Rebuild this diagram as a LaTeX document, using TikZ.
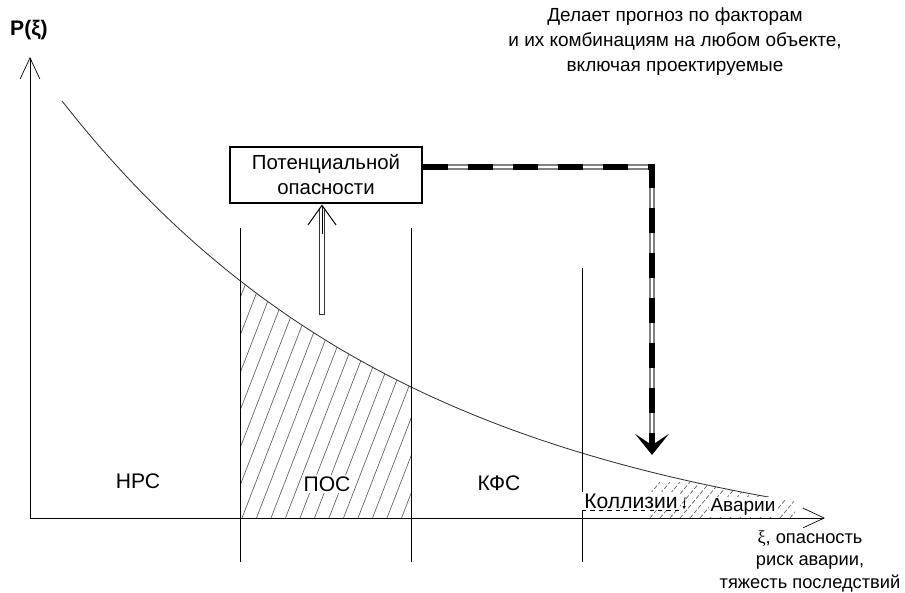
\documentclass[tikz,border=0pt]{standalone}
\usepackage{fontspec}
\setmainfont{Liberation Sans}
\newfontfamily\greekserif{Liberation Serif}
\usetikzlibrary{arrows.meta,calc,positioning}
\tikzset{
	axis line/.style={line width=0.6pt,-{Straight Barb[length=15pt,width=14pt,line width=0.5pt]}},
	zone line/.style={line width=0.6pt},
	curve line/.style={line width=0.6pt,black!80},
	hatch/.style={black!60,line width=0.5pt},
	zone label/.style={font=\fontsize{15}{18}\selectfont},
	small label/.style={font=\fontsize{13.5}{17.8}\selectfont},
	main box/.style={draw,line width=1.5pt,minimum width=4.8cm,minimum height=1.42cm,
		align=center,font=\fontsize{14.5}{17.8}\selectfont},
	hollow outer/.style={line width=4.2pt,black!80},
	hollow inner/.style={line width=2.4pt,white,shorten >=-1pt,shorten <=0.8pt},
	hollow tip/.style={line width=0.7pt,-{Straight Barb[length=14pt,width=20pt]}},
	fcast base/.style={line width=3.6pt,gray,shorten >=6pt},
	fcast inner/.style={line width=2pt,white,shorten >=6pt},
	fcast dash/.style={line width=3.6pt,dash pattern=on 18pt off 14pt,
		-{Stealth[length=15pt,width=24pt,inset=8pt]}}
}

\begin{document}
\begin{tikzpicture}[x=0.025cm,y=-0.025cm,
	declare function={pcurve(\t)=561.8-460.8*exp(-0.00277*(\t-62));}]
\useasboundingbox (0,0) rectangle (905,592);

\begin{scope}
  \clip (240,518) -- plot[domain=240:411,samples=30] (\x,{pcurve(\x)}) -- (411,518) -- cycle;
  \foreach \i in {-7,...,12}
    \draw[hatch] ({242+\i*14.5},518) -- ++(116,-300);
\end{scope}
\begin{scope}
  \clip (650,518) -- plot[domain=650:795,samples=20] (\x,{pcurve(\x)}) -- (795,518) -- cycle;
  \foreach \i in {-2,...,16}
    \draw[hatch,dash pattern=on 3pt off 1.5pt] ({640+\i*10},518) -- ++(30,-36);
\end{scope}

\coordinate (origin) at (30,518);
\coordinate (ytip) at (30,57);
\coordinate (xtip) at (825,518);
\draw[axis line] (origin) -- (ytip);
\draw[axis line] (origin) -- (xtip);

\draw[curve line] plot[domain=62:770,samples=80] (\x,{pcurve(\x)});

\draw[zone line] (240,228) -- (240,562);
\draw[zone line] (411,228) -- (411,562);
\draw[zone line] (582,268) -- (582,562);

\node[font=\bfseries\fontsize{15}{18}\selectfont] (pxi) at (29,30) {P(ξ)};
\node[small label,align=center] (forecast) at (675,42) {Делает прогноз по факторам\\и их комбинациям на любом объекте,\\включая проектируемые};

\node[main box] (potbox) at (326,175) {Потенциальной\\опасности};

\node[zone label] (nrs) at (138,481) {НРС};
\node[zone label,fill=white,inner sep=1pt] (pos) at (327,484) {ПОС};
\node[zone label] (kfs) at (499,483) {КФС};
\node[zone label,fill=white,inner xsep=1.5pt,inner ysep=1pt] (koll) at (631,501) {Коллизии};
\draw[dashed,line width=0.4pt] (koll.south west) -- (koll.south east);
\draw[line width=0.6pt,-{Latex[length=2pt,width=2.5pt]}] (685,497) -- (684,509);
\node[small label,fill=white,inner sep=1pt] (avar) at (743,507) {Аварии};

\node[small label,align=center,font=\fontsize{13}{16}\selectfont] (xilabel) at (810,561) {{\greekserif ξ}, опасность\\риск аварии,\\тяжесть последствий};

\coordinate (posfoot) at (322,315);
\coordinate (postip) at (posfoot |- potbox.south);
\draw[hollow outer] (posfoot) -- ($(postip)+(0,4)$);
\draw[hollow inner] (posfoot) -- ($(postip)+(0,4)$);
\draw[hollow tip] ($(postip)+(0,30)$) -- (postip);

\coordinate (progtip) at (652,455);
\draw[fcast base] ($(potbox.east)+(0,-8)$) -| (progtip);
\draw[fcast inner] ($(potbox.east)+(0,-8)$) -| (progtip);
\draw[fcast dash] ($(potbox.east)+(0,-8)$) -| (progtip);
\end{tikzpicture}
\end{document}
